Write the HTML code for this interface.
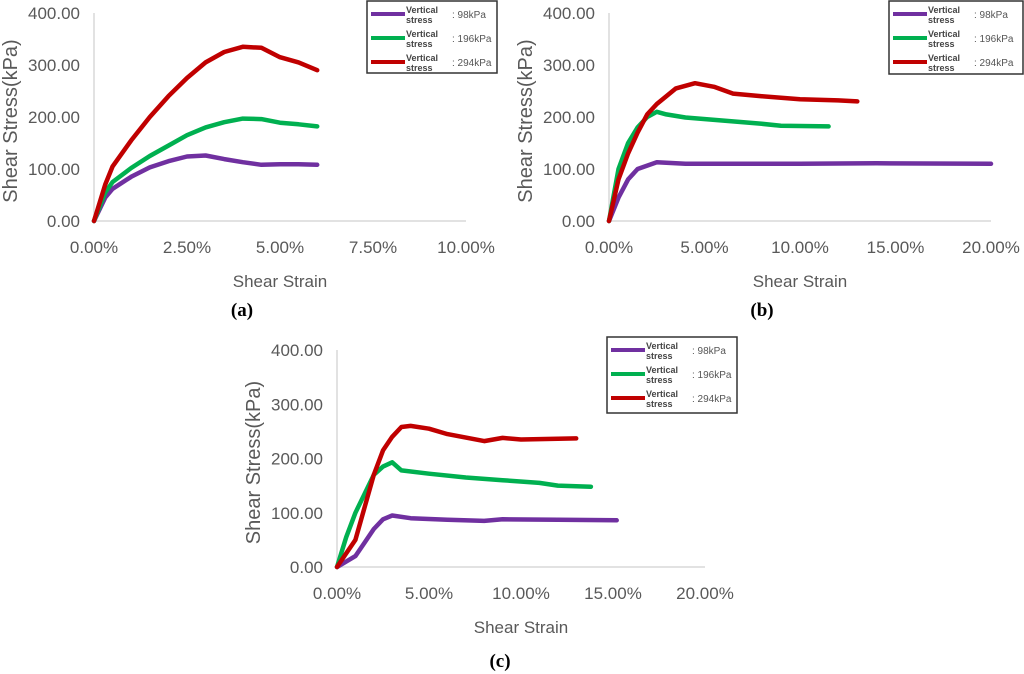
<!DOCTYPE html>
<html><head><meta charset="utf-8"><style>
body{margin:0;background:#fff;width:1024px;height:674px;overflow:hidden}
svg{display:block}
text{font-family:"Liberation Sans",sans-serif}
</style></head><body>
<svg id="s" width="1024" height="674" xmlns="http://www.w3.org/2000/svg"></svg>
<script>
const seriesNames=["Vertical stress : 98kPa","Vertical stress : 196kPa","Vertical stress : 294kPa"];
const legendValues=[": 98kPa",": 196kPa",": 294kPa"];
const colors=["#7030a0","#00b050","#c00000"];
const yTicks=[0,100,200,300,400];
const xTicksA=[0,2.5,5,7.5,10];
const xTicksBC=[0,5,10,15,20];
const aPurple=[[0,0],[0.3,45],[0.5,62],[1,85],[1.5,103],[2,115],[2.5,124],[3,126],[3.5,119],[4,113],[4.5,108],[5,109],[5.5,109],[6,108]];
const aGreen=[[0,0],[0.3,55],[0.5,75],[1,102],[1.5,125],[2,145],[2.5,165],[3,180],[3.5,190],[4,197],[4.5,196],[5,189],[5.5,186],[6,182]];
const aRed=[[0,0],[0.3,70],[0.5,105],[1,155],[1.5,200],[2,240],[2.5,275],[3,305],[3.5,325],[4,335],[4.5,333],[5,315],[5.5,305],[6,290]];
const bPurple=[[0,0],[0.5,45],[1,80],[1.5,100],[2.5,113],[4,110],[7,110],[10,110],[14,111],[20,110]];
const bGreen=[[0,0],[0.5,100],[1,150],[1.5,180],[2,200],[2.5,210],[3,205],[4,199],[6,193],[8,187],[9,183],[11.5,182]];
const bRed=[[0,0],[0.5,80],[1,130],[1.5,170],[2,205],[2.5,225],[3,240],[3.5,255],[4.5,265],[5.5,258],[6.5,245],[8,240],[10,234],[12,232],[13,230]];
const cPurple=[[0,0],[0.5,10],[1,20],[1.5,45],[2,70],[2.5,88],[3,95],[4,90],[6,87],[8,85],[9,88],[12,87],[15.2,86]];
const cGreen=[[0,0],[0.5,55],[1,100],[1.5,135],[2,170],[2.5,185],[3,193],[3.5,178],[5,172],[7,165],[9,160],[11,155],[12,150],[13.8,148]];
const cRed=[[0,0],[0.5,25],[1,50],[1.5,110],[2,170],[2.5,215],[3,240],[3.5,258],[4,260],[5,255],[6,245],[8,232],[9,238],[10,235],[13,237]];

const svg=document.getElementById('s');
const NS='http://www.w3.org/2000/svg';
function mk(tag,attrs,parent){const e=document.createElementNS(NS,tag);for(const k in attrs)e.setAttribute(k,attrs[k]);(parent||svg).appendChild(e);return e;}

function chart(id,ox,oy,x1,ytop,xmax,xTicks,series,leg,label,lab){
  const g=mk('g',{});
  
  
  const sx=v=>ox+(x1-ox)*v/xmax, sy=v=>oy-(oy-ytop)*v/400;
  const ya=mk('line',{x1:ox,y1:ytop,x2:ox,y2:oy,stroke:'#d9d9d9','stroke-width':1.5},g);
  
  const xa=mk('line',{x1:ox,y1:oy,x2:x1,y2:oy,stroke:'#d9d9d9','stroke-width':1.5},g);
  
  yTicks.forEach(v=>{const t=mk('text',{x:ox-14,y:sy(v)+6,'text-anchor':'end','font-size':17,fill:'#595959'},g);t.textContent=v.toFixed(2);
    });
  xTicks.forEach(v=>{const t=mk('text',{x:sx(v),y:oy+32,'text-anchor':'middle','font-size':17,fill:'#595959'},g);t.textContent=v.toFixed(2)+'%';
    });
  const xt=mk('text',{x:(ox+x1)/2,y:oy+66,'text-anchor':'middle','font-size':17,fill:'#595959'},g);xt.textContent='Shear Strain';
  
  const cy=(ytop+oy)/2+4, cx=ox-77;
  const yt=mk('text',{x:cx,y:cy,'text-anchor':'middle','font-size':20,fill:'#595959',transform:`rotate(-90 ${cx} ${cy})`},g);yt.textContent='Shear Stress(kPa)';
  
  series.forEach((s,i)=>{const p=mk('polyline',{points:s.map(d=>sx(d[0]).toFixed(1)+','+sy(d[1]).toFixed(1)).join(' '),fill:'none',stroke:colors[i],'stroke-width':4.5,'stroke-linejoin':'round','stroke-linecap':'round'},g);
    });
  const [lx,ly,lw,lh]=leg;
  const lg=mk('g',{},g);
  mk('rect',{x:lx,y:ly,width:lw,height:lh,fill:'#fff',stroke:'#333','stroke-width':1.5},lg);
  for(let i=0;i<3;i++){const ry=ly+13+i*24;
    const e=mk('g',{},lg);
    mk('line',{x1:lx+4,y1:ry,x2:lx+38,y2:ry,stroke:colors[i],'stroke-width':4},e);
    const t1=mk('text',{x:lx+39,y:ry-1,'font-size':9,'font-weight':'bold',fill:'#444'},e);t1.textContent='Vertical';
    const t2=mk('text',{x:lx+39,y:ry+9,'font-size':9,'font-weight':'bold',fill:'#444'},e);t2.textContent='stress';
    const t3=mk('text',{x:lx+85,y:ry+4,'font-size':10,fill:'#555'},e);t3.textContent=legendValues[i];}
  const l=mk('text',{x:lab[0],y:lab[1],'text-anchor':'middle','font-size':19,'font-weight':'bold',fill:'#000'},g);
  l.setAttribute('style','font-family:"Liberation Serif",serif');
  l.textContent='(';const b=mk('tspan',{},l);b.textContent=label;l.appendChild(document.createTextNode(')'));
  
}
chart('a',94,221,466,13,10,xTicksA,[aPurple,aGreen,aRed],[367,1,130,72],'a',[242,316]);
chart('b',609,221,991,13,20,xTicksBC,[bPurple,bGreen,bRed],[889,1,134,73],'b',[762,316]);
chart('c',337,567,705,350,20,xTicksBC,[cPurple,cGreen,cRed],[607,337,130,76],'c',[500,667]);
</script>
</body></html>
